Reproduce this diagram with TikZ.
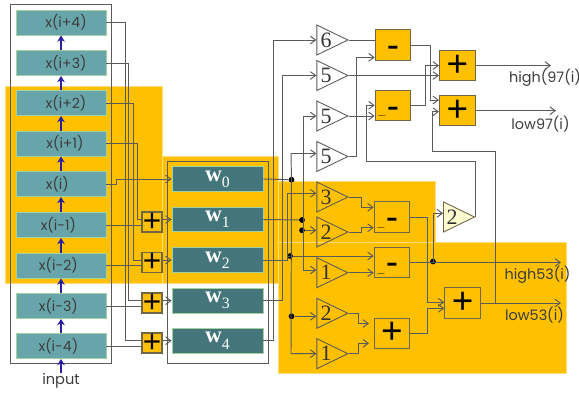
\documentclass[tikz,border=0pt]{standalone}
\usepackage{fontspec}
\setmainfont{Poppins}
\newfontfamily\opfont{Liberation Sans}
\newfontfamily\digfont{Liberation Serif}
\usepackage{xcolor}
\usetikzlibrary{arrows.meta}
\usetikzlibrary{shapes.geometric}
\definecolor{bandcol}{HTML}{FFC000}
\definecolor{seamcol}{HTML}{FFDE7A}
\definecolor{regcol}{HTML}{67A5AA}
\definecolor{regedge}{HTML}{A3D2A0}
\definecolor{wcol}{HTML}{44757B}
\definecolor{wirecol}{HTML}{5A5A5A}
\definecolor{edgecol}{HTML}{6F6547}
\definecolor{stepcol}{HTML}{2A1F9E}
\definecolor{textcol}{HTML}{3C3C3C}
\definecolor{palecol}{HTML}{FFFBD0}
\tikzset{>={Straight Barb[length=3pt,width=4.4pt]}}
\tikzstyle{band}=[fill=bandcol,draw=seamcol,line width=0.3pt]
\tikzstyle{frame}=[draw=wirecol,line width=0.55pt]
\tikzstyle{wire}=[draw=wirecol,line width=0.55pt]
\tikzstyle{regstep}=[-{Stealth[length=3.6pt,width=4.4pt]},draw=stepcol,line width=0.8pt]
\tikzstyle{regbox}=[draw=regedge,fill=regcol,line width=0.5pt,minimum width=1.8cm,minimum height=0.5cm,inner sep=0,text=textcol,font=\fontsize{8}{9}\selectfont]
\tikzstyle{wbox}=[draw=regedge,fill=wcol,line width=0.4pt,minimum width=1.82cm,minimum height=0.49cm,inner sep=0,text=white,font=\fontsize{11}{12}\digfont\bfseries]
\tikzstyle{addbox}=[draw=edgecol,fill=bandcol,line width=0.6pt,minimum size=0.4cm,inner sep=0,font=\fontsize{18}{18}\opfont]
\tikzstyle{opbox}=[addbox,minimum width=0.71cm,minimum height=0.61cm,font=\fontsize{21}{21}\opfont]
\tikzstyle{subbox}=[opbox,text height=14pt,text depth=0pt]
\tikzstyle{gain}=[isosceles triangle,isosceles triangle stretches,draw=wirecol,line width=0.5pt,minimum width=0.6cm,minimum height=0.62cm,inner sep=0,anchor=apex]
\tikzstyle{gaindig}=[inner sep=0,text=black!80,font=\fontsize{12.5}{13}\digfont]
\tikzstyle{jdot}=[circle,fill=black,minimum size=0.115cm,inner sep=0]
\tikzstyle{sublab}=[inner sep=0,font=\fontsize{7}{7}\opfont\bfseries]
\tikzstyle{outlab}=[inner sep=0,text=textcol,font=\fontsize{8.2}{10}\selectfont]
\newcommand{\wlab}[1]{w\raisebox{-3.5pt}{\fontsize{9}{9}\selectfont\mdseries #1}}

\begin{document}
\begin{tikzpicture}[x=0.02cm,y=-0.02cm]
  \useasboundingbox (0,0) rectangle (579,393);

  \fill[band] (5.5,86) rectangle (162,283);
  \fill[band] (162,156.5) rectangle (278,283);
  \fill[band] (278,181.5) rectangle (435,242);
  \fill[band] (278,242) rectangle (566,373.5);

  \draw[frame] (10.5,4.5) rectangle (111,363.5);
  \draw[frame] (167,161.5) rectangle (268.5,363.5);

  \foreach \name/\yy/\txt/\nudge in {rega/22.5/x(i+4)/5.7,regb/63/x(i+3)/5.7,regc/103/x(i+2)/5.7,regd/143.5/x(i+1)/4.5,rege/184/x(i)/-4.2,regf/225/x(i-1)/-3,regg/265.5/x(i-2)/-3,regh/306/x(i-3)/-3,regi/346/x(i-4)/-3}
    \node[regbox] (\name) at (61,\yy) {\hspace*{\nudge pt}\txt};
  \node[inner sep=0,text=textcol,font=\fontsize{8.3}{10}\selectfont] (input) at (61,381) {input};

  \foreach \from/\to in {regi/regh,regh/regg,regg/regf,regf/rege,rege/regd,regd/regc,regc/regb,regb/rega}
    \draw[regstep] (\from.north) -- (\to.south);
  \draw[regstep] (input.north) -- (regi.south);

  \foreach \name/\yy in {w0/179,w1/219.5,w2/260,w3/300.7,w4/340.7}
    \node[wbox] (\name) at (217.5,\yy) {};
  \foreach \name/\yy/\idx in {w0/179/0,w1/219.5/1,w2/260/2,w3/300.7/3,w4/340.7/4}
    \node[inner sep=0,text=white,font=\fontsize{13}{13}\digfont\bfseries] (\name lab) at (217.5,\yy) {\wlab{\idx}};

  \foreach \name/\yy in {adda/222,addb/262.5,addc/303,addd/343}
    \node[addbox] (\name) at (152,\yy) {+};

  % shift registers into the adders
  \foreach \reg/\busx/\yy/\add in {rega/125.5/340.7/addd,regb/128.5/300/addc,regc/133.3/260/addb,regd/137.5/219/adda}
    \draw[wire] (\reg.east) -| (\busx,\yy) -- (\add.west |- 0,\yy);
  \foreach \reg/\add in {regf/adda,regg/addb,regh/addc,regi/addd}
    \draw[wire] (\reg.east) -- (\add.west |- \reg.east);
  \draw[wire,->] (rege.east) -- (116.5,184) -- (116.5,179) -- (w0.west);
  \foreach \add/\w in {adda/w1,addb/w2,addc/w3,addd/w4}
    \draw[wire,->] (\add.east |- \w.west) -- (\w.west);

  \foreach \name/\yy/\gainv in {tsix/40/6,tfiva/75.5/5,tfivb/116/5,tfivc/156.5/5,tthr/197/3,ttwoa/232/2,tonea/272.7/1,ttwob/313.3/2,toneb/353.7/1}{
    \node[gain] (\name) at (349,\yy) {};
    \node[gaindig] (\name lab) at (326,\yy) {\gainv};
  }
  \node[gain,fill=palecol,draw=edgecol] (tpale) at (475.7,217) {};
  \node[gaindig] (tpalelab) at (452,217) {2};

  \node[subbox] (suba) at (393,45) {-};
  \node[subbox] (subb) at (393,105.7) {-};
  \node[subbox] (subc) at (392,217) {-};
  \node[subbox] (subd) at (392,262.5) {-};
  \node[opbox] (addh) at (457.3,65.5) {+};
  \node[opbox] (addl) at (457.3,110.7) {+};
  \node[opbox] (adde) at (392,333.3) {+};
  \node[opbox] (addf) at (462.6,303) {+};
  \node[sublab] (negb) at (382,115) {\_};
  \node[sublab] (negc) at (381,227) {\_};
  \node[sublab] (negd) at (381,273) {\_};

  \node[jdot] (dota) at (291.5,179.7) {};
  \node[jdot] (dotb) at (302,220) {};
  \node[jdot] (dotc) at (302,230.3) {};
  \node[jdot] (dotd) at (290,256) {};
  \node[jdot] (dote) at (291.5,316.3) {};
  \node[jdot] (dotf) at (433,261.5) {};

  \draw[wire] (w0.east) -- (dota);
  \draw[wire] (w1.east) -- (dotb);
  \draw[wire] (w2.east) -- (287.3,260) -- (287.3,256) -- (dotd);
  \draw[wire,->] (w3.east) -| (282,75.5) -- (tfiva.lower side);
  \draw[wire,->] (w4.east) -| (273.7,40) -- (tsix.lower side);
  \draw[wire,->] (dota.center) -- (291,153.5) -- (tfivc.lower side |- 0,153.5);
  \draw[wire,->] (dota.center) -- (291,353.7) -- (toneb.lower side);
  \draw[wire,->] (dotd.center) -- (287.3,256) -- (287.3,193.3) -- (tthr.lower side |- 0,193.3);
  \draw[wire,<->] (tfivb.lower side) -| (303.3,270) -- (tonea.lower side |- 0,270);
  \draw[wire,->] (dotc) -- (ttwoa.lower side |- dotc);
  \draw[wire,->] (dote) -- (ttwob.lower side |- dote);

  \draw[wire] (tsix.apex) -- (suba.west |- tsix.apex);
  \draw[wire,->] (tfiva.apex) -- (addh.west |- tfiva.apex);
  \draw[wire,->] (tfivb.apex) -- (subb.west |- tfivb.apex);
  \draw[wire,->] (tfivc.apex) -- (356.5,156.5) -- (356.5,57.3) -- (suba.west |- 0,57.3);
  \draw[wire,->] (suba.east) -- (430,45) -- (430,100) -- (addl.west |- 0,100);
  \draw[wire,->] (subb.east) -- (425.7,105.7) -- (425.7,65.5) -- (addh.west);
  \draw[wire,->] (tpale.apex) -- (475.7,161.7) -- (366.7,161.7) -- (366.7,105.3) -- (subb.west |- 0,105.3);
  \draw[wire,->] (addf.east -| 495.7,0) -- (495.7,151) -- (432.7,151) -- (432.7,111.7) -- (addl.west |- 0,111.7);

  \coordinate (outha) at (551,65.5);
  \coordinate (outla) at (556,110.7);
  \coordinate (outhb) at (561,262.5);
  \coordinate (outlb) at (561,303);
  \draw[wire,->] (addh.east) -- (outha);
  \draw[wire,->] (addl.east) -- (outla);
  \draw[wire,->] (subd.east) -- (outhb);
  \draw[wire,->] (addf.east) -- (outlb);
  \draw[wire,->] (dotf.center) -- (433,213.3) -- (tpale.lower side |- 0,213.3);

  \draw[wire,->] (tthr.apex) -- (361,197) -- (361,207.3) -- (subc.west |- 0,207.3);
  \draw[wire,->] (ttwoa.apex) -- (361,232) -- (361,227.7) -- (subc.west |- 0,227.7);
  \draw[wire,->] (dotd) -- (subd.west |- dotd);
  \draw[wire,->] (tonea.apex) -- (subd.west |- tonea.apex);
  \draw[wire,->] (subc.east) -- (427.3,217) -- (427.3,302.3) -- (addf.west |- 0,302.3);
  \draw[wire,->] (adde.east) -- (427.3,333.3) -- (427.3,308.3) -- (addf.west |- 0,308.3);

  \coordinate (pina) at (369,323.5);
  \coordinate (pinb) at (369,343.3);
  \draw[wire,->] (ttwob.apex) -- (358.7,313.3) |- (pina);
  \draw[wire,->] (toneb.apex) -- (358.7,353.7) |- (pinb);

  \node[outlab] (highnine) at (545,78) {high(97(i)};
  \node[outlab] (lownine) at (540.5,124) {low97(i)};
  \node[outlab] (highfive) at (537.5,275) {high53(i)};
  \node[outlab] (lowfive) at (534.5,315) {low53(i)};
\end{tikzpicture}
\end{document}
